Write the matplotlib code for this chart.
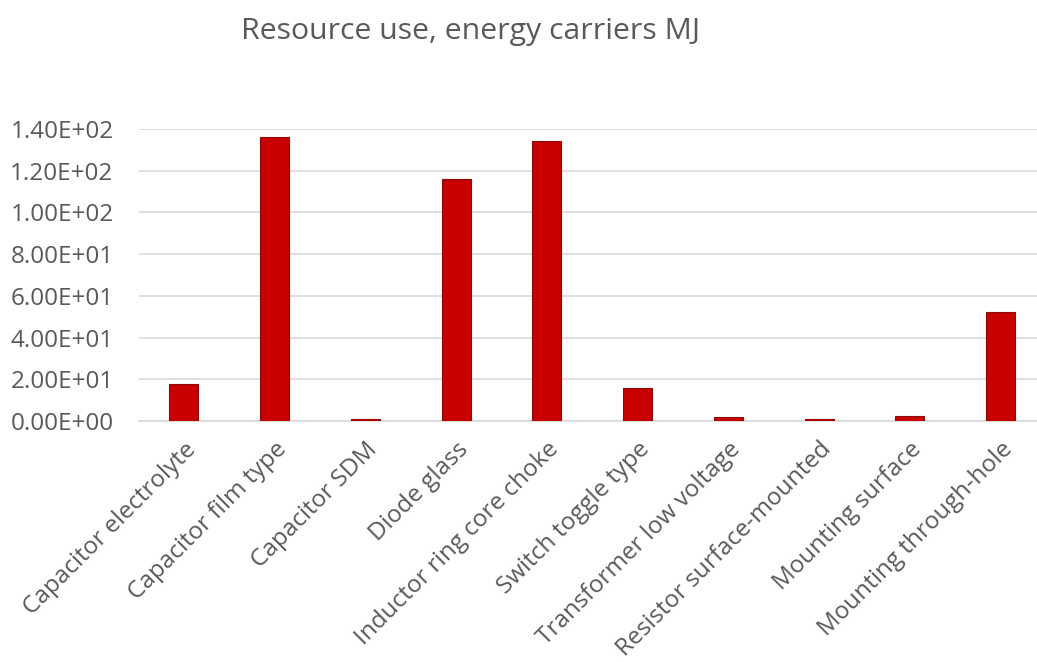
import matplotlib
matplotlib.use("Agg")
import matplotlib.pyplot as plt
from matplotlib.ticker import FuncFormatter

categories = [
    "Capacitor electrolyte",
    "Capacitor film type",
    "Capacitor SDM",
    "Diode glass",
    "Inductor ring core choke",
    "Switch toggle type",
    "Transformer low voltage",
    "Resistor surface-mounted",
    "Mounting surface",
    "Mounting through-hole",
]
values = [17.6, 136.3, 0.9, 116.0, 134.2, 15.7, 1.8, 1.0, 2.5, 52.4]
y_ticks = [0, 20, 40, 60, 80, 100, 120, 140]

TEXT = "#595959"
plt.rcParams["font.family"] = ["Open Sans", "DejaVu Sans"]

fig = plt.figure(figsize=(10.37, 6.62), dpi=100)
ax = fig.add_axes([138.6 / 1037, (662 - 421) / 662, (1046 - 138.6) / 1037, 292 / 662])

x = list(range(len(categories)))
ax.bar(x, values, width=0.32, color="#C80000", edgecolor="#8B0A0A", linewidth=0.8, zorder=3)

ax.set_xlim(-0.5, len(categories) - 0.5)
ax.set_ylim(0, 140)
ax.set_yticks(y_ticks)
ax.yaxis.set_major_formatter(FuncFormatter(lambda v, p: f"{v:.2E}"))
ax.grid(axis="y", color="#D9D9D9", linewidth=1.2, zorder=0)
ax.set_axisbelow(True)

for s in ["top", "right", "left"]:
    ax.spines[s].set_visible(False)
ax.spines["bottom"].set_color("#D9D9D9")
ax.spines["bottom"].set_linewidth(1.2)

ax.tick_params(axis="both", length=0, labelcolor=TEXT, labelsize=17.5)
ax.tick_params(axis="y", pad=18)
ax.set_xticks(x)
ax.set_xticklabels(categories, rotation=45, ha="right", rotation_mode="anchor")
ax.tick_params(axis="x", pad=12)

fig.text(471 / 1037, 0.952, "Resource use, energy carriers MJ", color=TEXT,
         fontsize=21.8, ha="center", va="center")

fig.savefig("out.png", dpi=100, facecolor="white")
